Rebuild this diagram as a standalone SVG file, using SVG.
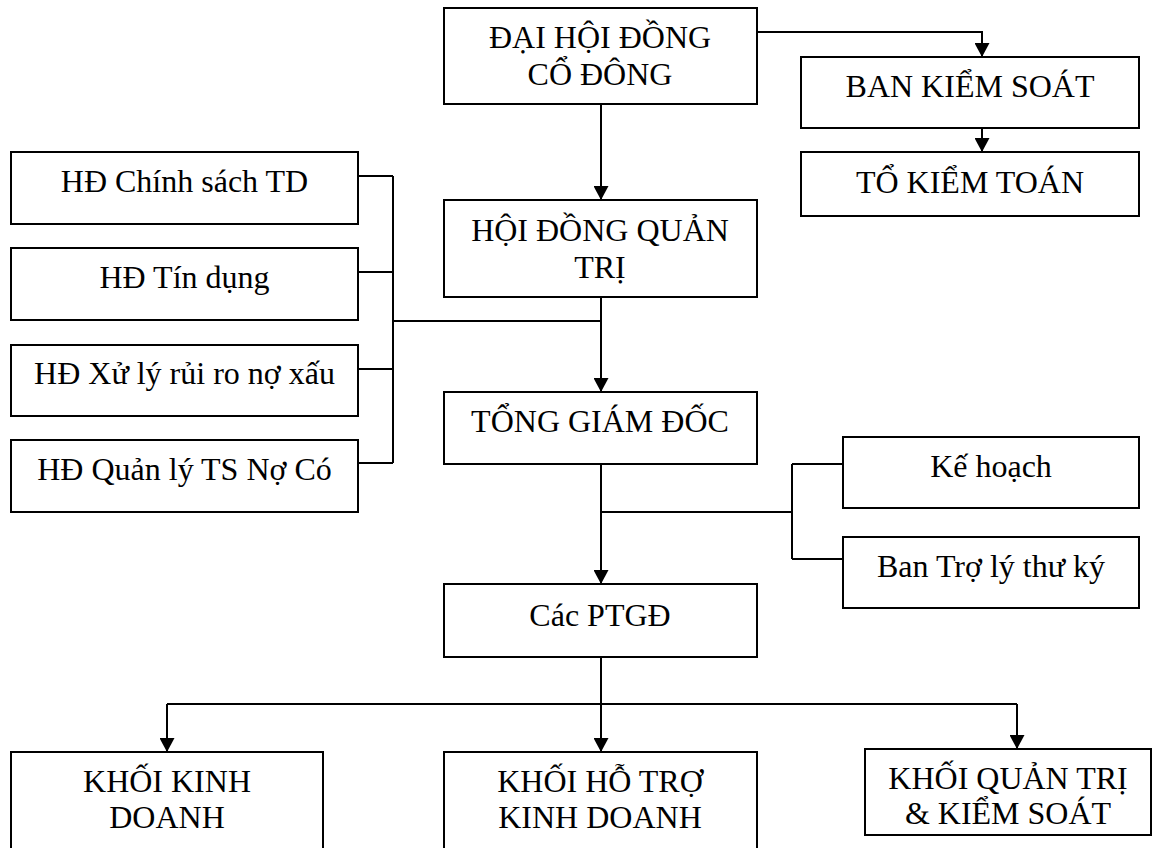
<svg xmlns="http://www.w3.org/2000/svg" width="1155" height="848" viewBox="0 0 1155 848">
<style>
.box{fill:#fff;stroke:#000;stroke-width:2}
.t{font-family:'Liberation Serif','DejaVu Serif',serif;font-size:32px;fill:#000;text-anchor:middle}
.c{fill:none;stroke:#000;stroke-width:2}
.a{marker-end:url(#arr)}
</style>
<defs>
<marker id="arr" viewBox="0 0 14 15" refX="14" refY="7.5" markerWidth="14" markerHeight="15" markerUnits="userSpaceOnUse" orient="auto">
<path d="M0,0 L14,7.5 L0,15 z" fill="#000"/>
</marker>
</defs>
<rect width="1155" height="848" fill="#fff"/>
<g id="connectors">
<path class="c a" d="M601,104 V200"/>
<path class="c a" d="M757,32 H982 V57"/>
<path class="c a" d="M982,128 V152"/>
<path class="c" d="M358,176 H393 M358,272 H393 M358,369 H393 M358,463 H393 M393,176 V463 M393,321 H601"/>
<path class="c a" d="M601,297 V392"/>
<path class="c a" d="M601,464 V584"/>
<path class="c" d="M601,512 H792 M792,464 V559 M792,464 H843 M792,559 H843"/>
<path class="c a" d="M601,657 V752"/>
<path class="c" d="M167,704 H1017"/>
<path class="c a" d="M167,704 V752"/>
<path class="c a" d="M1017,704 V749"/>
</g>
<g id="dhdcd"><rect class="box" x="444" y="8" width="313" height="96"/><text class="t" x="600" y="48">ĐẠI HỘI ĐỒNG</text><text class="t" x="600" y="85">CỔ ĐÔNG</text></g>
<g id="bks"><rect class="box" x="801" y="57" width="338" height="71"/><text class="t" x="970" y="97">BAN KIỂM SOÁT</text></g>
<g id="tkt"><rect class="box" x="801" y="152" width="338" height="64"/><text class="t" x="970" y="193">TỔ KIỂM TOÁN</text></g>
<g id="hdqt"><rect class="box" x="444" y="200" width="313" height="97"/><text class="t" x="600" y="241">HỘI ĐỒNG QUẢN</text><text class="t" x="600" y="278">TRỊ</text></g>
<g id="hd1"><rect class="box" x="11" y="152" width="347" height="72"/><text class="t" x="184.5" y="192">HĐ Chính sách TD</text></g>
<g id="hd2"><rect class="box" x="11" y="248" width="347" height="72"/><text class="t" x="184.5" y="288">HĐ Tín dụng</text></g>
<g id="hd3"><rect class="box" x="11" y="345" width="347" height="71"/><text class="t" x="184.5" y="384">HĐ Xử lý rủi ro nợ xấu</text></g>
<g id="hd4"><rect class="box" x="11" y="440" width="347" height="72"/><text class="t" x="184.5" y="480">HĐ Quản lý TS Nợ Có</text></g>
<g id="tgd"><rect class="box" x="444" y="392" width="313" height="72"/><text class="t" x="600" y="432">TỔNG GIÁM ĐỐC</text></g>
<g id="kehoach"><rect class="box" x="843" y="437" width="296" height="71"/><text class="t" x="991" y="477">Kế hoạch</text></g>
<g id="bantroly"><rect class="box" x="843" y="537" width="296" height="71"/><text class="t" x="991" y="577">Ban Trợ lý thư ký</text></g>
<g id="ptgd"><rect class="box" x="444" y="584" width="313" height="73"/><text class="t" x="600" y="626">Các PTGĐ</text></g>
<g id="kkd"><rect class="box" x="11" y="752" width="312" height="100"/><text class="t" x="167" y="792">KHỐI KINH</text><text class="t" x="167" y="828">DOANH</text></g>
<g id="khtkd"><rect class="box" x="444" y="752" width="313" height="100"/><text class="t" x="600" y="792">KHỐI HỖ TRỢ</text><text class="t" x="600" y="828">KINH DOANH</text></g>
<g id="kqtks"><rect class="box" x="865" y="749" width="286" height="86"/><text class="t" x="1008" y="789">KHỐI QUẢN TRỊ</text><text class="t" x="1008" y="824">&amp; KIỂM SOÁT</text></g>
</svg>
